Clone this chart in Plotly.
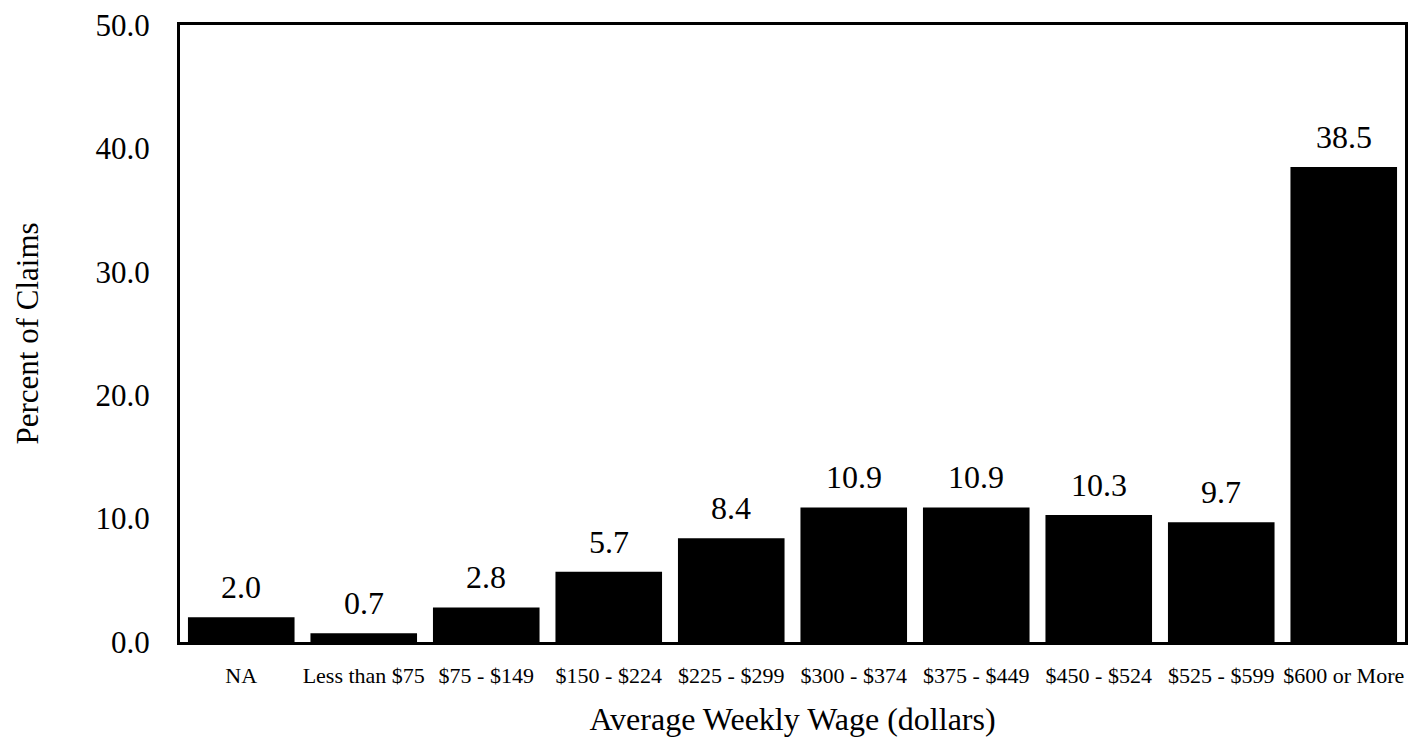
import plotly.graph_objects as go

categories = ["NA", "Less than $75", "$75 - $149", "$150 - $224", "$225 - $299",
              "$300 - $374", "$375 - $449", "$450 - $524", "$525 - $599", "$600 or More"]
percent_of_claims = [2.0, 0.7, 2.8, 5.7, 8.4, 10.9, 10.9, 10.3, 9.7, 38.5]
y_tick_values = [0, 10, 20, 30, 40, 50]
y_tick_labels = ["0.0", "10.0", "20.0", "30.0", "40.0", "50.0"]

FONT = "Liberation Serif"

fig = go.Figure(go.Bar(
    x=categories,
    y=percent_of_claims,
    marker=dict(color="black", line=dict(width=0)),
    hoverinfo="x+y",
))

for c, v in zip(categories, percent_of_claims):
    fig.add_annotation(
        x=c, y=v, text=f"{v:.1f}", showarrow=False,
        yanchor="bottom", yshift=10,
        font=dict(family=FONT, size=32, color="black"),
    )

# y-axis title placed as a rotated annotation so it can sit close to the page edge
fig.add_annotation(
    xref="paper", yref="paper", x=0, y=0.5, xanchor="center", yanchor="middle",
    xshift=-153, text="Percent of Claims", textangle=-90, showarrow=False,
    font=dict(family=FONT, size=31, color="black"),
)

# page body has an 8px default margin, so the figure is sized to fit the window
fig.update_layout(
    width=1416, height=741,
    margin=dict(l=172, r=19, t=17, b=107),
    plot_bgcolor="white", paper_bgcolor="white",
    bargap=0.13,
    showlegend=False,
    font=dict(family=FONT, color="black"),
)
fig.update_xaxes(
    showline=True, mirror=True, linewidth=3, linecolor="black",
    showgrid=False, ticks="", ticklabelstandoff=12, automargin=False,
    tickfont=dict(family=FONT, size=22),
    title=dict(text="Average Weekly Wage (dollars)", font=dict(family=FONT, size=32), standoff=21),
)
fig.update_yaxes(
    range=[0, 50], tickvals=y_tick_values, ticktext=y_tick_labels,
    showline=True, mirror=True, linewidth=3, linecolor="black",
    showgrid=False, zeroline=False, ticks="", ticklabelstandoff=21, automargin=False,
    ticklabeloverflow="allow",
    tickfont=dict(family=FONT, size=31),
)

fig.write_html("out.html")
